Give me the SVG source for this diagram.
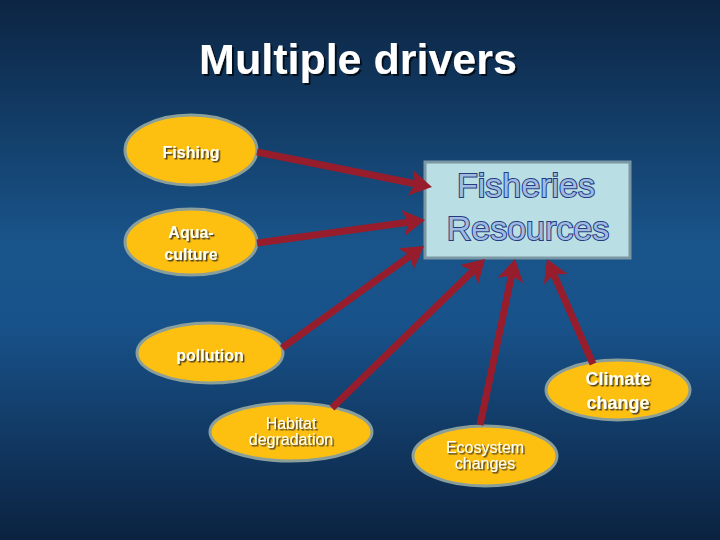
<svg xmlns="http://www.w3.org/2000/svg" width="720" height="540" viewBox="0 0 720 540">
<defs>
<linearGradient id="bg" x1="0" y1="0" x2="0" y2="1">
<stop offset="0" stop-color="#0c2543"/>
<stop offset="0.45" stop-color="#19548a"/>
<stop offset="0.6" stop-color="#18528a"/>
<stop offset="1" stop-color="#0b2240"/>
</linearGradient>
<filter id="sh" x="-20%" y="-20%" width="140%" height="160%">
<feDropShadow dx="1.5" dy="1.5" stdDeviation="0.3" flood-color="#3a3320" flood-opacity="0.9"/>
</filter>
<filter id="tsh" x="-10%" y="-20%" width="120%" height="150%">
<feDropShadow dx="2" dy="2" stdDeviation="0.5" flood-color="#000" flood-opacity="0.7"/>
</filter>
<marker id="ah" markerUnits="userSpaceOnUse" markerWidth="24" markerHeight="28" refX="5" refY="13" orient="auto">
<path d="M0,0 L22,13 L0,26 L5,13 z" fill="#981d2c"/>
</marker>
</defs>
<style>
.node ellipse{fill:#fdbf10;stroke:#8a9e9a;stroke-width:3}
.lbl{font-family:"Liberation Sans",Arial,sans-serif;fill:#fffff2;text-anchor:middle;filter:url(#sh)}
.b{font-weight:bold}
.conn line{stroke:#981d2c;stroke-width:7;marker-end:url(#ah)}
.big{font-family:"Liberation Sans",Arial,sans-serif;font-size:34px;fill:#9fbbe0;stroke:#253a80;stroke-width:2;text-anchor:middle;paint-order:stroke}
</style>
<rect x="0" y="0" width="720" height="540" fill="url(#bg)"/>
<text x="358" y="74" font-family="Liberation Sans,Arial,sans-serif" font-weight="bold" font-size="43" fill="#ffffff" text-anchor="middle" filter="url(#tsh)">Multiple drivers</text>

<g id="fishing" class="node">
<ellipse cx="191" cy="150" rx="66" ry="35"/>
<text class="lbl b" x="191" y="158" font-size="16">Fishing</text>
</g>
<g id="aquaculture" class="node">
<ellipse cx="191" cy="242" rx="66" ry="33"/>
<text class="lbl b" x="191" y="238" font-size="16">Aqua-</text>
<text class="lbl b" x="191" y="260" font-size="16">culture</text>
</g>
<g id="pollution" class="node">
<ellipse cx="210" cy="353" rx="73" ry="30"/>
<text class="lbl b" x="210" y="361" font-size="16">pollution</text>
</g>
<g id="habitat" class="node">
<ellipse cx="291" cy="432" rx="81" ry="29"/>
<text class="lbl" x="291" y="429" font-size="16">Habitat</text>
<text class="lbl" x="291" y="445" font-size="16">degradation</text>
</g>
<g id="ecosystem" class="node">
<ellipse cx="485" cy="456" rx="72" ry="30"/>
<text class="lbl" x="485" y="453" font-size="16">Ecosystem</text>
<text class="lbl" x="485" y="469" font-size="16">changes</text>
</g>
<g id="climate" class="node">
<ellipse cx="618" cy="390" rx="72" ry="30"/>
<text class="lbl b" x="618" y="385" font-size="18">Climate</text>
<text class="lbl b" x="618" y="409" font-size="18">change</text>
</g>
<g id="resources" class="node">
<rect x="425" y="162" width="205" height="96" fill="#b9dfe5" stroke="#7a97a3" stroke-width="3"/>
<text class="big" x="526" y="197">Fisheries</text>
<text class="big" x="528" y="240">Resources</text>
</g>

<g id="connectors" class="conn">
<line x1="257" y1="152" x2="415.3" y2="183.7"/>
<line x1="257" y1="243" x2="408.2" y2="222.3"/>
<line x1="282" y1="348" x2="410.2" y2="255.9"/>
<line x1="332" y1="408" x2="472.8" y2="270.9"/>
<line x1="480" y1="425" x2="511.5" y2="275.6"/>
<line x1="593" y1="364" x2="553.8" y2="274.6"/>
</g>
</svg>
